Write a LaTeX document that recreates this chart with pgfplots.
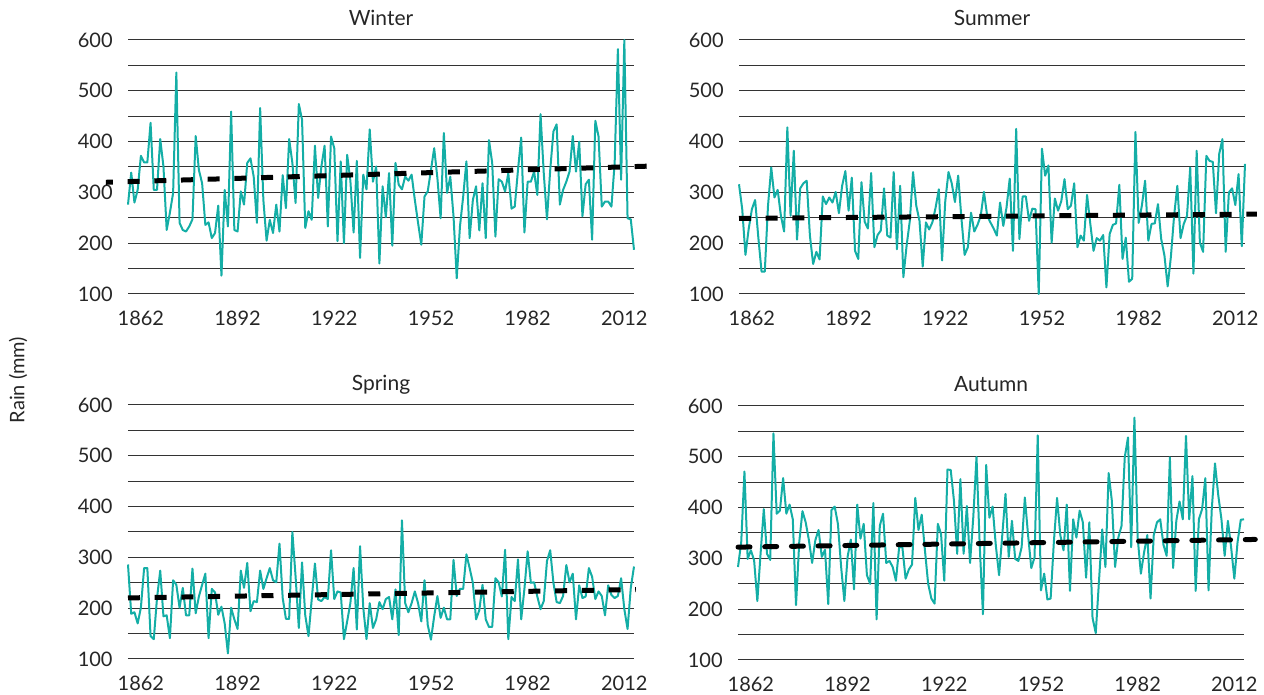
\documentclass[border=0pt]{standalone}
\usepackage{pgfplots}
\usepackage{pgfplotstable}
\pgfplotsset{compat=1.18}
\usepackage{fontspec}
\setmainfont{Lato}

\definecolor{rainteal}{RGB}{20,174,166}

% seasonal rain (mm) per year
\pgfplotstableread{
year W Su Sp Au
1858 276 316 286 283
1859 339 267 189 332
1860 280 177 192 471
1861 305 228 170 299
1862 372 267 201 316
1863 359 285 279 296
1864 359 211 279 216
1865 437 144 145 309
1866 305 144 139 397
1867 305 274 220 309
1868 405 349 274 297
1869 351 290 184 546
1870 226 305 186 388
1871 260 254 141 394
1872 299 223 255 458
1873 536 428 246 388
1874 240 254 201 406
1875 226 382 240 377
1876 223 207 186 208
1877 233 308 186 332
1878 247 318 278 393
1879 411 323 190 371
1880 344 215 223 336
1881 318 159 246 291
1882 236 183 268 336
1883 241 168 141 356
1884 210 292 238 303
1885 220 277 231 317
1886 274 290 187 210
1887 136 280 203 395
1888 305 301 170 402
1889 233 259 111 368
1890 459 313 201 283
1891 226 342 178 216
1892 223 264 159 303
1893 302 329 274 337
1894 276 185 240 239
1895 358 169 289 406
1896 367 320 194 339
1897 331 242 214 368
1898 240 229 212 267
1899 466 338 274 250
1900 285 192 238 409
1901 205 216 259 180
1902 246 225 279 364
1903 220 308 255 388
1904 276 215 251 291
1905 223 211 327 295
1906 334 340 220 283
1907 269 188 179 256
1908 405 313 179 322
1909 358 133 350 322
1910 279 195 262 260
1911 474 244 161 278
1912 443 340 290 288
1913 230 274 186 419
1914 263 244 145 356
1915 246 154 217 386
1916 392 241 288 316
1917 289 227 217 250
1918 351 241 214 221
1919 392 270 222 211
1920 233 306 218 368
1921 410 166 314 348
1922 387 283 218 256
1923 204 340 233 475
1924 361 318 231 474
1925 200 281 139 414
1926 374 333 174 309
1927 323 250 210 456
1928 221 177 279 309
1929 362 192 158 403
1930 171 260 322 291
1931 335 223 201 381
1932 306 236 139 500
1933 424 254 210 325
1934 321 301 161 190
1935 351 254 178 484
1936 160 241 212 380
1937 312 229 198 402
1938 251 215 218 325
1939 338 280 222 267
1940 195 234 178 346
1941 358 270 237 427
1942 315 327 147 303
1943 306 185 373 374
1944 331 425 210 299
1945 323 208 192 295
1946 335 292 210 322
1947 285 292 233 420
1948 240 244 210 346
1949 197 268 174 281
1950 292 267 255 302
1951 302 100 167 542
1952 344 386 138 237
1953 387 333 184 270
1954 328 353 224 219
1955 249 201 181 221
1956 417 288 201 332
1957 299 264 178 419
1958 331 283 178 346
1959 253 326 295 316
1960 131 267 224 406
1961 233 274 238 236
1962 292 318 238 377
1963 361 192 306 341
1964 210 215 279 394
1965 285 205 250 371
1966 312 295 178 262
1967 225 238 196 371
1968 318 185 246 183
1969 210 210 178 153
1970 403 205 163 255
1971 358 216 163 357
1972 213 113 259 283
1973 326 218 251 468
1974 321 236 223 413
1975 302 239 315 283
1976 338 315 139 341
1977 268 169 222 364
1978 272 211 214 499
1979 344 124 296 538
1980 408 130 178 322
1981 221 419 238 577
1982 321 240 312 341
1983 321 274 250 270
1984 341 323 251 312
1985 295 205 223 346
1986 454 238 198 221
1987 338 239 214 346
1988 247 277 293 371
1989 344 208 314 377
1990 420 176 250 327
1991 434 115 212 305
1992 276 173 210 499
1993 305 254 224 281
1994 321 313 285 374
1995 341 210 251 412
1996 411 238 268 377
1997 341 254 178 541
1998 400 349 245 377
1999 253 140 220 462
2000 316 382 223 236
2001 325 201 279 377
2002 207 183 262 397
2003 441 372 218 458
2004 410 362 233 237
2005 272 360 224 397
2006 282 259 186 487
2007 282 376 245 425
2008 272 405 226 377
2009 358 183 220 305
2010 582 300 224 374
2011 325 308 259 322
2012 600 275 198 260
2013 249 336 159 332
2014 247 194 240 376
2015 187 356 282 377
}\rain

\pgfplotsset{
  season/.style={
    scale only axis, width=253pt, height=127pt,
    anchor=south west, clip=false,
    xmin=1858, xmax=2015, ymin=100, ymax=600,
    xtick={1862,1892,...,2012},
    ytick={100,200,...,600}, minor ytick={150,250,...,550},
    ymajorgrids, yminorgrids,
    major grid style={black!80, line width=0.5pt},
    minor grid style={black!80, line width=0.5pt},
    axis line style={draw=none},
    major tick length=0pt, minor tick length=0pt,
    /pgf/number format/assume math mode=true,
    /pgf/number format/1000 sep={},
    tick label style={font=\fontsize{10}{12}\selectfont, text=black!85},
    xticklabel style={inner sep=0pt, anchor=north, yshift=-8.5pt},
    yticklabel style={inner sep=0pt, anchor=east, xshift=-7.5pt},
    every axis title shift=0pt,
    title style={font=\fontsize{10.5}{12}\selectfont, text=black!85,
      at={(0.5,1)}, anchor=base, inner sep=0pt, yshift=7pt},
  },
  rainline/.style={rainteal, line width=1pt, line join=round, no markers},
  trend/.style={black, line width=2.5pt, no markers, dash pattern=on 6pt off 7.35pt},
}

\begin{document}
\begin{tikzpicture}

\begin{axis}[season, at={(64pt,200.5pt)}, title={Winter}]
  \addplot[rainline] table[x=year, y=W] {\rain};
  \addplot[trend, dash phase=2.5pt] coordinates {(1851.15,319.9) (2019.7,351.7)};
\end{axis}

\begin{axis}[season, at={(369.5pt,200.5pt)}, title={Summer}]
  \addplot[rainline] table[x=year, y=Su] {\rain};
  \addplot[trend] coordinates {(1858,248.8) (2018.7,257.3)};
\end{axis}

\begin{axis}[season, at={(64pt,18pt)}, title={Spring}]
  \addplot[rainline] table[x=year, y=Sp] {\rain};
  \addplot[trend] coordinates {(1858,220.2) (2015.6,236.7)};
\end{axis}

\begin{axis}[season, at={(369pt,17.5pt)}, title={Autumn}]
  \addplot[rainline] table[x=year, y=Au] {\rain};
  \addplot[trend, line cap=round] coordinates {(1858,322.2) (2018.5,337.3)};
\end{axis}

\node[rotate=90, font=\fontsize{10}{12}\selectfont, text=black!85] at (9pt,157.5pt) {Rain (mm)};

\pgfresetboundingbox
\path[use as bounding box] (0,0) rectangle (632pt,347.5pt);
\end{tikzpicture}
\end{document}
